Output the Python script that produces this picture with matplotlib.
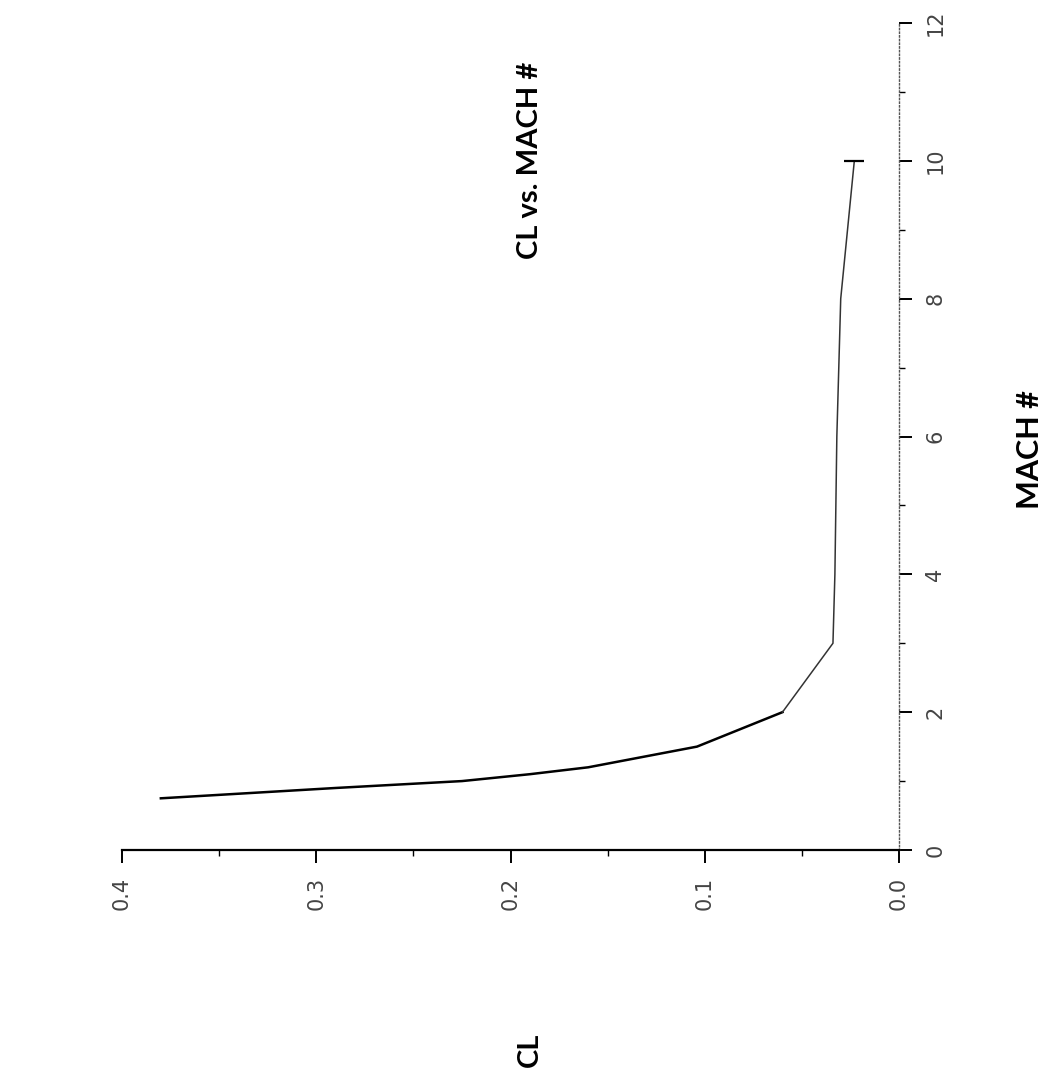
import numpy as np
from matplotlib import pyplot as plt
from matplotlib.ticker import MultipleLocator

# CL vs MACH, drawn turned a quarter turn like the scanned page
mach = [0.75, 0.9, 1.0, 1.1, 1.2, 1.5, 2.0, 3.0, 4.0, 6.0, 8.0, 10.0]
cl = [0.38, 0.29, 0.225, 0.19, 0.16, 0.104, 0.06, 0.034, 0.033, 0.032, 0.030, 0.023]

cl_ticks = [0.0, 0.1, 0.2, 0.3, 0.4]
mach_ticks = [0, 2, 4, 6, 8, 10, 12]

fig = plt.figure(figsize=(10.49, 10.78), dpi=100)
ax = fig.add_axes([122 / 1049, 1 - 850 / 1078, 777 / 1049, 827 / 1078])

# the scan shows the low-speed part heavy and the rest faint
k = mach.index(2.0)
ax.plot(cl[:k + 1], mach[:k + 1], color='black', linewidth=1.8)
ax.plot(cl[k:], mach[k:], color='#333333', linewidth=1.1)
ax.plot(cl[-1], mach[-1], marker='_', markersize=14, markeredgewidth=1.6, color='black')

ax.set_xlim(0.4, 0.0)
ax.set_ylim(0, 12)

ax.spines['left'].set_visible(False)
ax.spines['top'].set_visible(False)
ax.spines['bottom'].set_linewidth(1.6)
ax.spines['right'].set_linestyle(':')
ax.spines['right'].set_color('#555555')
ax.spines['right'].set_linewidth(1.0)

ax.set_xticks(cl_ticks)
ax.set_xticklabels([f'{v:.1f}' for v in cl_ticks], rotation=90, fontsize=15, color='#444444')
ax.xaxis.set_minor_locator(MultipleLocator(0.05))
ax.set_yticks(mach_ticks)
ax.set_yticklabels([str(v) for v in mach_ticks], rotation=90, fontsize=15, color='#444444',
                   va='center')
ax.yaxis.set_minor_locator(MultipleLocator(1))
ax.yaxis.tick_right()
ax.tick_params(which='major', direction='out', length=9, width=1.4, pad=10)
ax.tick_params(which='minor', direction='out', length=4, width=1.0)
ax.patch.set_visible(False)

lbl = dict(family=['Lato', 'DejaVu Sans'], fontweight='bold', rotation=90,
           ha='center', va='center')
fig.text(530 / 1049, 1 - 1050 / 1078, 'CL', fontsize=21, **lbl)
fig.text(1030 / 1049, 1 - 450 / 1078, 'MACH #', fontsize=22, **lbl)
fig.text(530 / 1049, 1 - 160 / 1078, 'CL vs. MACH #', fontsize=21, **lbl)

plt.savefig('out.png', dpi=100)
